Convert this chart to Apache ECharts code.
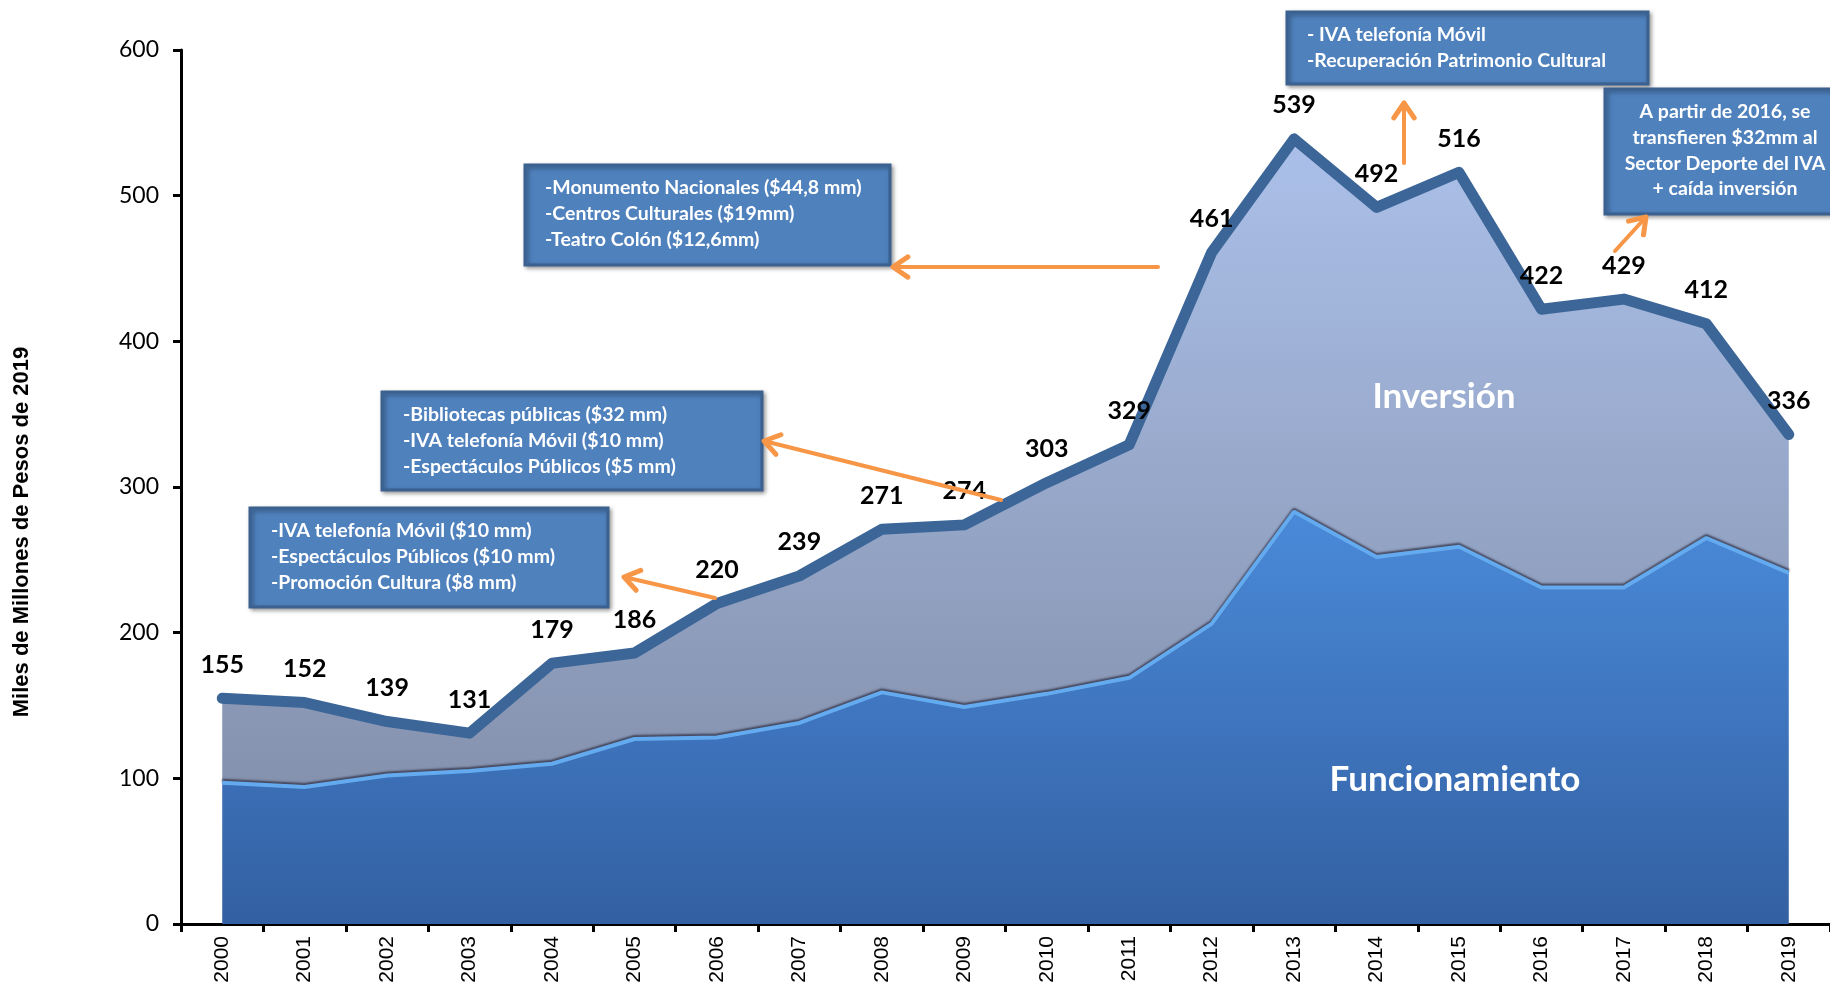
<!DOCTYPE html>
<html>
<head>
<meta charset="utf-8">
<script src="https://cdn.jsdelivr.net/npm/echarts@6/dist/echarts.min.js"></script>
<style>
html,body{margin:0;padding:0;background:#fff;}
#chart{width:1830px;height:999px;}
</style>
</head>
<body>
<div id="chart"></div>
<script>
var years = ['2000','2001','2002','2003','2004','2005','2006','2007','2008','2009','2010','2011','2012','2013','2014','2015','2016','2017','2018','2019'];
var total = [155,152,139,131,179,186,220,239,271,274,303,329,461,539,492,516,422,429,412,336];
var funcionamiento = [97,94,102,105,110,127,128,138,159,149,158,169,206,283,252,259,231,231,265,241];
var inversion = [58,58,37,26,69,59,92,101,112,125,145,160,255,256,240,257,191,198,147,95];
var yTicks = [0,100,200,300,400,500,600];
var yAxisTitle = 'Miles de Millones de Pesos de 2019';
var labelInversion = 'Inversión';
var labelFuncionamiento = 'Funcionamiento';
var notes = [
  ['-Monumento Nacionales ($44,8 mm)','-Centros Culturales ($19mm)','-Teatro Colón ($12,6mm)'],
  ['-Bibliotecas públicas ($32 mm)','-IVA telefonía Móvil ($10 mm)','-Espectáculos Públicos ($5 mm)'],
  ['-IVA telefonía Móvil ($10 mm)','-Espectáculos Públicos ($10 mm)','-Promoción Cultura ($8 mm)'],
  ['- IVA telefonía Móvil','-Recuperación Patrimonio Cultural'],
  ['A partir de 2016, se','transfieren $32mm al','Sector Deporte del IVA','+ caída inversión']
];

var chart = echarts.init(document.getElementById('chart'));
var FONT = 'Lato, "Open Sans", sans-serif';

// annotation layout (pixels)
var boxes = [
  {x:525,y:165,w:365,h:100,tx:545,ty:188,align:'left'},
  {x:382,y:392,w:380,h:98,tx:403,ty:415,align:'left'},
  {x:250,y:508,w:358,h:99,tx:271,ty:531,align:'left'},
  {x:1287,y:12,w:361,h:72,tx:1307,ty:35,align:'left'},
  {x:1605,y:89,w:235,h:125,tx:1725,ty:112,align:'center'}
];
var arrows = [
  [1158,267,893,267],
  [1001,500,764,441],
  [715,598,624,577],
  [1404,163,1404,103],
  [1615,251,1646,217]
];
var ORANGE = '#f79646';
var graphics = [];
boxes.forEach(function(b,i){
  graphics.push({type:'rect',shape:{x:b.x,y:b.y,width:b.w,height:b.h},
    style:{fill:'#4f81bd',stroke:'#3a6190',lineWidth:3,shadowColor:'rgba(0,0,0,0.35)',shadowBlur:4,shadowOffsetX:2,shadowOffsetY:2},z:20});
  notes[i].forEach(function(line,j){
    graphics.push({type:'text',x:b.tx,y:b.ty+j*(i===4?25.7:26),z:21,
      style:{text:line,fill:'#fff',font:'bold 19.5px '+FONT,textAlign:b.align,textVerticalAlign:'middle'}});
  });
});
arrows.forEach(function(a){
  var x1=a[0],y1=a[1],x2=a[2],y2=a[3];
  var ang=Math.atan2(y2-y1,x2-x1), L=18, s=0.6;
  var p1=[x2-L*Math.cos(ang-s), y2-L*Math.sin(ang-s)];
  var p2=[x2-L*Math.cos(ang+s), y2-L*Math.sin(ang+s)];
  graphics.push({type:'line',shape:{x1:x1,y1:y1,x2:x2,y2:y2},style:{stroke:ORANGE,lineWidth:4,lineCap:'round'},z:22});
  graphics.push({type:'polyline',shape:{points:[p1,[x2,y2],p2]},style:{stroke:ORANGE,lineWidth:5,lineCap:'round',lineJoin:'round',fill:null},z:22});
});
graphics.push({type:'text',x:22,y:532,rotation:Math.PI/2,z:20,
  style:{text:yAxisTitle,fill:'#000',font:'bold 22px "Liberation Sans", Arial, sans-serif',textAlign:'center',textVerticalAlign:'middle'}});
graphics.push({type:'text',x:1444,y:397,z:20,
  style:{text:labelInversion,fill:'#fff',font:'bold 35px '+FONT,textAlign:'center',textVerticalAlign:'middle'}});
graphics.push({type:'text',x:1455,y:780,z:20,
  style:{text:labelFuncionamiento,fill:'#fff',font:'bold 35px '+FONT,textAlign:'center',textVerticalAlign:'middle'}});

var option = {
  animation:false,
  backgroundColor:'#fff',
  grid:{left:181,right:0,top:50,bottom:75,containLabel:false},
  xAxis:{
    type:'category',data:years,boundaryGap:true,
    axisLine:{lineStyle:{color:'#000',width:3}},
    axisTick:{show:true,alignWithLabel:false,length:8,lineStyle:{color:'#000',width:3}},
    axisLabel:{rotate:90,margin:12,fontSize:21,color:'#000',fontFamily:'"Liberation Sans", Arial, sans-serif'},
    splitLine:{show:false}
  },
  yAxis:{
    type:'value',min:yTicks[0],max:yTicks[yTicks.length-1],interval:100,
    axisLine:{show:true,lineStyle:{color:'#000',width:3}},
    axisTick:{show:true,length:8,lineStyle:{color:'#000',width:3}},
    axisLabel:{fontSize:23,color:'#000',margin:22,fontFamily:FONT},
    splitLine:{show:false}
  },
  graphic:graphics,
  series:[
    {name:'Funcionamiento',type:'line',stack:'g',data:funcionamiento,symbol:'none',z:4,
      lineStyle:{color:'#64aaef',width:4,shadowColor:'rgba(50,50,70,0.8)',shadowBlur:2,shadowOffsetY:-2},
      areaStyle:{opacity:1,color:{type:'linear',x:0,y:0,x2:0,y2:1,colorStops:[{offset:0,color:'#4a8ad9'},{offset:1,color:'#3360a2'}]}}
    },
    {name:'Inversión',type:'line',stack:'g',data:inversion,symbol:'none',z:2,
      lineStyle:{width:0},
      areaStyle:{opacity:1,color:{type:'linear',x:0,y:0,x2:0,y2:1,colorStops:[{offset:0,color:'#abc0e9'},{offset:1,color:'#8592ae'}]}}
    },
    {name:'Total',type:'line',data:total,symbol:'circle',symbolSize:2,showSymbol:true,z:5,
      itemStyle:{color:'#3c6698'},
      lineStyle:{color:'#3c6698',width:11,cap:'round',join:'round'},
      label:{show:true,position:'top',distance:20,fontSize:25,fontWeight:'bold',color:'#000',fontFamily:FONT}
    }
  ]
};
chart.setOption(option);
</script>
</body>
</html>
